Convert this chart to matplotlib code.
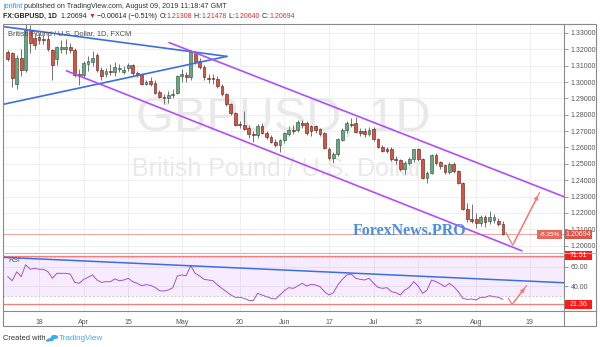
import matplotlib
matplotlib.use("Agg")
import matplotlib.pyplot as plt
from matplotlib.patches import Rectangle, Circle
from matplotlib.lines import Line2D
import numpy as np
import pandas as pd

# ---------------- data ----------------
dates = pd.bdate_range("2019-03-07", "2019-08-09")
opens = [1.3184,1.3176,1.2990,1.3150,1.3075,1.3320,1.3270,1.3275,1.3262,1.3265,
         1.3198,1.3140,1.3200,1.3202,1.3215,1.3198,1.3050,1.3045,1.3110,1.3120,
         1.3165,1.3075,1.3052,1.3068,1.3060,1.3078,1.3060,1.3084,1.3104,1.3054,
         1.3044,1.2990,1.3006,1.2992,1.2941,1.2910,1.2905,1.2918,1.2935,1.3040,
         1.3045,1.3033,1.3176,1.3130,1.3094,1.3027,1.3025,1.3021,1.2976,1.2925,
         1.2864,1.2813,1.2745,1.2737,1.2720,1.2684,1.2674,1.2730,1.2690,1.2664,
         1.2635,1.2615,1.2645,1.2684,1.2708,1.2706,1.2750,1.2747,1.2733,1.2730,
         1.2714,1.2688,1.2588,1.2537,1.2560,1.2645,1.2706,1.2745,1.2750,1.2698,
         1.2700,1.2683,1.2710,1.2650,1.2605,1.2592,1.2592,1.2531,1.2523,1.2470,
         1.2507,1.2527,1.2588,1.2527,1.2415,1.2445,1.2552,1.2511,1.2490,1.2450,
         1.2496,1.2455,1.2380,1.2222,1.2163,1.2161,1.2137,1.2173,1.2150,1.2155,
         1.2153,1.21308]
highs = [1.3194,1.3186,1.3165,1.3200,1.3380,1.3350,1.3300,1.3300,1.3285,1.3290,
         1.3200,1.3220,1.3260,1.3262,1.3240,1.3210,1.3080,1.3130,1.3160,1.3190,
         1.3180,1.3090,1.3085,1.3110,1.3120,1.3110,1.3100,1.3115,1.3110,1.3070,
         1.3055,1.3010,1.3030,1.3010,1.2950,1.2925,1.2945,1.2960,1.3045,1.3080,
         1.3060,1.3198,1.3190,1.3150,1.3105,1.3050,1.3050,1.3035,1.2990,1.2935,
         1.2875,1.2820,1.2760,1.2825,1.2735,1.2700,1.2745,1.2750,1.2700,1.2675,
         1.2650,1.2650,1.2695,1.2730,1.2740,1.2765,1.2768,1.2760,1.2740,1.2740,
         1.2720,1.2695,1.2600,1.2570,1.2660,1.2720,1.2760,1.2780,1.2785,1.2720,
         1.2720,1.2725,1.2725,1.2660,1.2615,1.2600,1.2600,1.2550,1.2530,1.2515,
         1.2540,1.2590,1.2595,1.2535,1.2455,1.2560,1.2565,1.2520,1.2500,1.2510,
         1.2510,1.2465,1.2390,1.2258,1.2254,1.2200,1.2190,1.2190,1.2210,1.2195,
         1.2170,1.21478]
lows = [1.3129,1.2972,1.2960,1.3040,1.3060,1.3180,1.3200,1.3235,1.3230,1.3190,
        1.3010,1.3105,1.3175,1.3170,1.3180,1.3030,1.2980,1.3025,1.3070,1.3100,
        1.3060,1.3010,1.3030,1.3045,1.3040,1.3060,1.3050,1.3070,1.3040,1.3030,
        1.2980,1.2980,1.2975,1.2930,1.2900,1.2865,1.2870,1.2905,1.2925,1.3000,
        1.3000,1.3010,1.3110,1.3080,1.3010,1.2995,1.2990,1.2965,1.2915,1.2855,
        1.2800,1.2730,1.2720,1.2705,1.2660,1.2635,1.2660,1.2680,1.2650,1.2625,
        1.2600,1.2570,1.2630,1.2670,1.2680,1.2695,1.2720,1.2675,1.2670,1.2690,
        1.2670,1.2590,1.2525,1.2505,1.2550,1.2640,1.2690,1.2725,1.2690,1.2670,
        1.2665,1.2670,1.2640,1.2595,1.2570,1.2565,1.2520,1.2500,1.2455,1.2440,
        1.2490,1.2510,1.2515,1.2410,1.2380,1.2435,1.2495,1.2470,1.2440,1.2440,
        1.2445,1.2375,1.2215,1.2147,1.2140,1.2110,1.2120,1.2115,1.2135,1.2140,
        1.2120,1.20640]
closes = [1.3141,1.3023,1.3150,1.3075,1.3320,1.3240,1.3228,1.3258,1.3255,1.3200,
          1.3105,1.3215,1.3215,1.3215,1.3198,1.3045,1.3035,1.3115,1.3130,1.3150,
          1.3075,1.3035,1.3068,1.3060,1.3090,1.3088,1.3072,1.3104,1.3054,1.3044,
          1.2988,1.3002,1.2986,1.2935,1.2906,1.2902,1.2918,1.2930,1.3037,1.3050,
          1.3030,1.3186,1.3125,1.3094,1.3033,1.3019,1.3017,1.2976,1.2925,1.2864,
          1.2813,1.2738,1.2735,1.2716,1.2680,1.2675,1.2729,1.2690,1.2664,1.2631,
          1.2615,1.2645,1.2686,1.2707,1.2698,1.2753,1.2740,1.2686,1.2698,1.2704,
          1.2684,1.2594,1.2533,1.2560,1.2649,1.2706,1.2747,1.2740,1.2694,1.2688,
          1.2680,1.2706,1.2650,1.2603,1.2578,1.2580,1.2531,1.2523,1.2466,1.2505,
          1.2527,1.2588,1.2527,1.2415,1.2445,1.2552,1.2507,1.2486,1.2450,1.2496,
          1.2455,1.2385,1.2222,1.2161,1.2153,1.2137,1.2173,1.2147,1.2173,1.2172,
          1.2135,1.20694]
rsi = [50.0,45.8,55.1,50.0,62.4,57.6,58.6,57.6,57.6,55.1,
       48.3,53.4,53.4,53.4,52.7,44.1,43.1,47.2,49.3,51.7,
       46.5,44.1,44.8,44.8,47.6,45.8,46.5,48.3,44.8,43.1,
       40.7,41.7,41.0,38.9,35.5,35.1,36.2,38.6,50.7,51.7,
       51.0,61.3,53.4,50.7,47.2,46.5,45.8,41.4,37.9,34.5,
       31.0,28.6,28.6,27.6,25.5,25.1,32.7,31.0,29.3,27.6,
       26.9,31.0,35.5,38.6,37.9,40.3,43.1,40.3,42.0,41.4,
       39.6,34.5,31.0,33.4,41.4,47.2,51.7,52.7,48.3,47.2,
       46.5,48.3,43.1,38.9,37.9,38.6,34.5,33.4,31.0,36.2,
       38.9,44.8,40.3,32.7,36.2,46.5,44.8,42.4,39.6,43.1,
       39.6,34.5,27.6,26.5,26.9,25.8,28.6,28.6,30.3,29.3,
       28.6,26.5]

tick_dates = ["2019-03-18", "2019-04-01", "2019-04-15", "2019-05-01", "2019-05-20",
              "2019-06-03", "2019-06-17", "2019-07-01", "2019-07-15", "2019-08-01", "2019-08-19"]
tick_labels = ["18", "Apr", "15", "May", "20", "Jun", "17", "Jul", "15", "Aug", "19"]
price_ticks = [1.20, 1.21, 1.22, 1.23, 1.24, 1.25, 1.26, 1.27, 1.28, 1.29, 1.30, 1.31, 1.32, 1.33]
rsi_ticks = [60, 40]

# drawings (bar index, value)
blue_upper = [(-1.0, 1.3339), (49.1, 1.3157)]
blue_lower = [(-1.0, 1.2864), (49.1, 1.3157)]
channel_upper = [(36.2, 1.3241), (124.7, 1.2299)]
channel_lower = [(13.2, 1.3068), (115.2, 1.1969)]
price_arrow = [(111.7, 1.2079), (113.2, 1.2003), (119.2, 1.2323)]
rsi_trend = [(-1.0, 70.0), (124.7, 43.7)]
rsi_arrow = [(112.2, 27.6), (113.1, 21.4), (116.3, 40.7)]
rsi_levels = [71.51, 21.36]
last_price = 1.20694
pct_label = "-8.35%"

# ---------------- figure ----------------
W, H = 600, 347
fig = plt.figure(figsize=(W / 100, H / 100), dpi=100)
fig.patch.set_facecolor("white")

def fx(x):
    return x / W

def fy(y):
    return 1 - y / H

FONT = ["Liberation Sans", "DejaVu Sans"]
plt.rcParams["font.family"] = FONT

L, R, T, B = 3, 564, 24, 252
RT, RB = 253, 311
ax = fig.add_axes([fx(L), fy(B), (R - L) / W, (B - T) / H])
ax2 = fig.add_axes([fx(L), fy(RB), (R - L) / W, (RB - RT) / H])

bus_days = pd.bdate_range("2019-03-07", "2019-09-30")
def pos(d):
    return int(np.searchsorted(bus_days, pd.Timestamp(d)))

xmin, xmax = -1.08, 124.7
tick_x = [pos(d) for d in tick_dates]
for a in (ax, ax2):
    a.set_xlim(xmin, xmax)
    a.set_facecolor("white")
    for s in a.spines.values():
        s.set_visible(False)
    a.set_xticks(tick_x)
    for tx in tick_x:
        a.axvline(tx, color="#efefef", lw=0.7, zorder=0)

ax.set_ylim(1.1961, 1.3355)
ax2.set_ylim(14.47, 74.45)

# horizontal grid
for p in price_ticks:
    ax.axhline(p, color="#efefef", lw=0.7, zorder=0)
for v in rsi_ticks:
    ax2.axhline(v, color="#efefef", lw=0.7, zorder=0)

# watermark
ax.text(0.499, 0.585, "GBPUSD, 1D", transform=ax.transAxes, ha="center", va="center",
        fontsize=35, color="#e9e9e9", zorder=0.5)
wm2 = ax.text((132 - L) / (R - L), (B - 169) / (B - T), "British Pound / U.S. Dollar",
              transform=ax.transAxes, ha="left", va="center", fontsize=18, color="#e9e9e9", zorder=0.5)
clip = Rectangle((0, 0), (424 - L) / (R - L), 1, transform=ax.transAxes, visible=False)
ax.add_patch(clip)
wm2.set_clip_path(clip)

# candles
up_body, up_edge = "#6ba583", "#225437"
dn_body, dn_edge = "#d75442", "#5b1a13"
xs = np.arange(len(closes))
for i in xs:
    o, h, l, c = opens[i], highs[i], lows[i], closes[i]
    up = c >= o
    ec = up_edge if up else dn_edge
    fc = up_body if up else dn_body
    ax.vlines(i, l, h, color="#737375", lw=0.7, zorder=2)
    ax.bar(i, max(abs(c - o), 0.00015), bottom=min(o, c), width=0.62, color=fc,
           edgecolor=ec, lw=0.4, zorder=3)

# last price line
ax.axhline(last_price, color="#f2a39b", lw=0.7, zorder=1.5)

# trend lines
def draw(a, pts, **kw):
    a.plot([p[0] for p in pts], [p[1] for p in pts], **kw)

draw(ax, blue_upper, color="#3b6fe0", lw=1.2, zorder=4, solid_capstyle="round")
draw(ax, blue_lower, color="#3b6fe0", lw=1.2, zorder=4, solid_capstyle="round")
draw(ax, channel_upper, color="#b14cff", lw=1.2, zorder=4)
draw(ax, channel_lower, color="#b14cff", lw=1.2, zorder=4)
draw(ax, price_arrow, color="#f47c7c", lw=0.9, zorder=4)
ax.annotate("", xy=price_arrow[-1], xytext=price_arrow[-2],
            arrowprops=dict(arrowstyle="-|>", color="#f47c7c", lw=0.9, mutation_scale=6), zorder=4)

# ForexNews watermark
ax.text((353 - L) / (R - L), (B - 231) / (B - T), "ForexNews.PRO", transform=ax.transAxes,
        ha="left", va="center", fontsize=11.5, fontweight="bold", color="#4a90e2",
        family=["Liberation Serif", "DejaVu Serif"], zorder=6)

# price axis
ax.yaxis.tick_right()
ax.set_yticks(price_ticks)
ax.set_yticklabels([f"{p:.5f}" for p in price_ticks])
ax.tick_params(axis="y", length=3, width=0.6, color="#888888", labelsize=5,
               labelcolor="#555555", pad=2)
ax.tick_params(axis="x", length=0, labelbottom=False)

# ---------------- RSI ----------------
ax2.axhspan(30, 70, color="#9915ff", alpha=0.08, lw=0, zorder=0.5)
ax2.axhline(70, color="#c8c8c8", lw=0.7, ls=(0, (2, 2)), zorder=1)
ax2.axhline(30, color="#c8c8c8", lw=0.7, ls=(0, (2, 2)), zorder=1)
for v in rsi_levels:
    ax2.axhline(v, color="#f77d7d", lw=0.9, zorder=2)
ax2.plot(xs, rsi, color="#a54fd1", lw=0.7, zorder=3)
draw(ax2, rsi_trend, color="#3b6fe0", lw=1.1, zorder=4)
draw(ax2, rsi_arrow, color="#f47c7c", lw=0.9, zorder=4)
ax2.annotate("", xy=rsi_arrow[-1], xytext=rsi_arrow[-2],
             arrowprops=dict(arrowstyle="-|>", color="#f47c7c", lw=0.9, mutation_scale=6), zorder=4)
ax2.text(0.01, 0.93, "RSI", transform=ax2.transAxes, fontsize=5, color="#555555", va="top")

ax2.yaxis.tick_right()
ax2.set_yticks(rsi_ticks)
ax2.set_yticklabels([f"{v:.2f}" for v in rsi_ticks])
ax2.tick_params(axis="y", length=3, width=0.6, color="#888888", labelsize=5,
                labelcolor="#555555", pad=2)
ax2.set_xticklabels(tick_labels)
ax2.tick_params(axis="x", length=0, labelsize=5, labelcolor="#555555", pad=6)

# ---------------- frame ----------------
fig.add_artist(Rectangle((fx(3), fy(326)), (596 - 3) / W, (326 - 24) / H, transform=fig.transFigure,
                         fill=False, ec="#8a8a8a", lw=0.8))
fig.add_artist(Line2D([fx(564), fx(564)], [fy(24), fy(326)], color="#8a8a8a", lw=0.8))
fig.add_artist(Line2D([fx(3), fx(596)], [fy(252.5), fy(252.5)], color="#bdbdbd", lw=0.8))
fig.add_artist(Line2D([fx(3), fx(596)], [fy(311), fy(311)], color="#8a8a8a", lw=0.8))

# price labels on axis
def axis_label(y_px, text, bg, x0=565, x1=592):
    fig.add_artist(Rectangle((fx(x0), fy(y_px + 4.5)), (x1 - x0) / W, 9 / H,
                             transform=fig.transFigure, color=bg, lw=0))
    fig.text(fx((x0 + x1) / 2), fy(y_px), text, ha="center", va="center", fontsize=5,
             color="white")

def py(p):
    return T + (1.3355 - p) / (1.3355 - 1.1961) * (B - T)

def ry(v):
    return RT + (74.45 - v) / (74.45 - 14.47) * (RB - RT)

axis_label(py(last_price), f"{last_price:.5f}", "#d9574a")
fig.add_artist(Rectangle((fx(537), fy(py(last_price) + 4.5)), 25 / W, 9 / H,
                         transform=fig.transFigure, color="#e46a5f", lw=0))
fig.text(fx(549.5), fy(py(last_price)), pct_label, ha="center", va="center", fontsize=4.6, color="white")
for v in rsi_levels:
    axis_label(ry(v), f"{v:.2f}", "#ff1a1a")

# ---------------- header text ----------------
renderer = fig.canvas.get_renderer()

def seq(x_px, y_px, parts, size):
    x = fx(x_px)
    for txt, col, wt in parts:
        t = fig.text(x, fy(y_px), txt, ha="left", va="center", fontsize=size, color=col,
                     fontweight=wt)
        bb = t.get_window_extent(renderer=renderer)
        x += bb.width / fig.bbox.width

seq(3, 6, [("jonfint", "#2196f3", "normal"),
           (" published on TradingView.com, August 09, 2019 11:18:47 GMT", "#333333", "normal")], 5.2)
seq(3, 16, [("FX:GBPUSD, 1D", "#222222", "bold"),
            ("  1.20694 ", "#222222", "normal"),
            ("\u25bc", "#c0392b", "normal"),
            (" \u22120.00614 (\u22120.51%) ", "#222222", "normal"),
            ("O:", "#222222", "normal"), ("1.21308", "#d0312d", "normal"),
            (" H:", "#222222", "normal"), ("1.21478", "#d0312d", "normal"),
            (" L:", "#222222", "normal"), ("1.20640", "#d0312d", "normal"),
            (" C:", "#222222", "normal"), ("1.20694", "#d0312d", "normal")], 5.0)
fig.text(fx(8), fy(34), "British Pound / U.S. Dollar, 1D, FXCM", ha="left", va="center",
         fontsize=5.3, color="#4f4f4f")

# footer
fig.text(fx(3), fy(338), "Created with", ha="left", va="center", fontsize=5.4, color="#333333")
for cx, cy, r in [(51, 339.5, 3.0), (54.5, 337, 3.6), (48, 340.5, 2.2)]:
    fig.add_artist(Circle((fx(cx), fy(cy)), r / W, transform=fig.transFigure, color="#3fa9f5", lw=0))
fig.text(fx(59), fy(338), "TradingView", ha="left", va="center", fontsize=5.8, color="#3fa9f5")

fig.savefig("out.png", dpi=100, facecolor="white")
